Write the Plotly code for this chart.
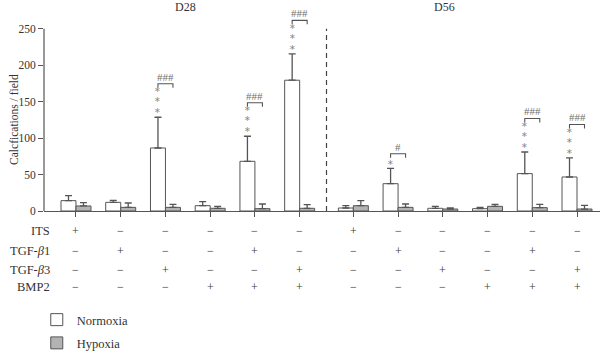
import plotly.graph_objects as go

# ---- data ----
positions = [0, 1, 2, 3, 4, 5, 6.2, 7.2, 8.2, 9.2, 10.2, 11.2]
normoxia = [14.2, 11.9, 86.5, 7.3, 68.2, 179.5, 4.1, 37.5, 3.7, 3.2, 51.3, 46.7]
normoxia_err = [6.8, 2.8, 42.2, 5.5, 34.4, 36.2, 3.2, 21.1, 2.7, 1.8, 29.7, 26.1]
hypoxia = [6.9, 5.0, 5.0, 3.7, 3.2, 3.7, 7.3, 5.0, 2.7, 6.4, 4.6, 2.7]
hypoxia_err = [4.5, 6.0, 4.2, 2.7, 6.4, 5.0, 6.9, 4.6, 1.4, 2.8, 4.6, 5.1]
stars = ["", "", "***", "", "***", "***", "", "*", "", "", "***", "***"]
hashes = ["", "", "###", "", "###", "###", "", "#", "", "", "###", "###"]
row_labels = ["ITS", "TGF-<i>β</i>1", "TGF-<i>β</i>3", "BMP2"]
row_signs = [
    ["+", "−", "−", "−", "−", "−", "+", "−", "−", "−", "−", "−"],
    ["−", "+", "−", "−", "+", "−", "−", "+", "−", "−", "+", "−"],
    ["−", "−", "+", "−", "−", "+", "−", "−", "+", "−", "−", "+"],
    ["−", "−", "−", "+", "+", "+", "−", "−", "−", "+", "+", "+"],
]
panel_titles = ["D28", "D56"]
panel_title_x = [2.45, 8.23]
separator_x = 5.6
y_ticks = [0, 50, 100, 150, 200, 250]

# ---- style/geometry ----
FONT = "Liberation Serif, Times New Roman, serif"
GRAY = "#555555"
TXT = "#333333"
W, H = 600, 354
ML, MR, MT, MB = 44, 0, 7, 143
YMAX = 280
plot_h = H - MT - MB
upx = YMAX / plot_h  # data units per pixel
BARW = 0.335

fig = go.Figure()
fig.add_trace(go.Bar(
    x=positions, y=normoxia, name="Normoxia", legendgroup="a",
    marker=dict(color="white", line=dict(color=GRAY, width=1)),
    error_y=dict(type="data", array=normoxia_err, arrayminus=[0] * 12, symmetric=False,
                 color=GRAY, thickness=1.3, width=3.5),
))
fig.add_trace(go.Bar(
    x=positions, y=hypoxia, name="Hypoxia", legendgroup="b",
    marker=dict(color="#b3b3b3", line=dict(color=GRAY, width=1)),
    error_y=dict(type="data", array=hypoxia_err, arrayminus=[0] * 12, symmetric=False,
                 color=GRAY, thickness=1.3, width=3.5),
))

shapes = []
annotations = []

# y-axis line (0..250 only)
shapes.append(dict(type="line", xref="paper", yref="paper", x0=0, x1=0,
                   y0=0, y1=250 / YMAX, line=dict(color=GRAY, width=1.2)))
# dashed separator
shapes.append(dict(type="line", xref="x", yref="y", x0=separator_x, x1=separator_x,
                   y0=0, y1=250, line=dict(color="#444444", width=1.2, dash="5px,4px")))

# significance marks
for i, p in enumerate(positions):
    s = stars[i]
    if not s:
        continue
    top = normoxia[i] + normoxia_err[i]
    xn = p - BARW / 2
    xh = p + BARW / 2
    n = len(s)
    star_txt = "<br>".join(["∗"] * n)
    center = top + (6 if n == 1 else 17) * upx
    annotations.append(dict(x=xn, y=center, xref="x", yref="y",
                            text=star_txt, showarrow=False, yanchor="middle",
                            font=dict(family="DejaVu Sans", size=8, color="#8a8a8a")))
    by = top + (9.5 * n + 5) * upx
    leg = 4 * upx
    shapes.append(dict(type="path", xref="x", yref="y",
                       path=f"M {xn},{by - leg} L {xn},{by} L {xh},{by} L {xh},{by - leg}",
                       line=dict(color=GRAY, width=1.1)))
    annotations.append(dict(x=(xn + xh) / 2, y=by + 7 * upx, xref="x", yref="y",
                            text=hashes[i], showarrow=False, yanchor="middle",
                            font=dict(family=FONT, size=11, color="#707070")))

# panel titles
for t, tx in zip(panel_titles, panel_title_x):
    annotations.append(dict(x=tx, y=1, xref="x", yref="paper", text=t, showarrow=False,
                            yanchor="middle", font=dict(family=FONT, size=12, color=TXT)))

# y title
annotations.append(dict(x=-30 / (W - ML - MR), y=125, xref="paper", yref="y",
                        text="Calcfications / field", textangle=-90, showarrow=False,
                        xanchor="center", yanchor="middle",
                        font=dict(family=FONT, size=11.5, color=TXT)))

# treatment table
row_py = [231, 250.5, 269.5, 286.5]
for r, (lab, signs) in enumerate(zip(row_labels, row_signs)):
    yp = -(row_py[r] - (H - MB)) / plot_h
    annotations.append(dict(x=(52 - ML) / (W - ML - MR), y=yp, xref="paper", yref="paper",
                            text=lab, showarrow=False, xanchor="right", yanchor="middle",
                            font=dict(family=FONT, size=12.5, color=TXT)))
    for p, sg in zip(positions, signs):
        annotations.append(dict(x=p, y=yp, xref="x", yref="paper", text=sg, showarrow=False,
                                xanchor="center", yanchor="middle",
                                font=dict(family=FONT, size=12, color="#3a3a3a")))

fig.update_layout(
    width=W, height=H,
    margin=dict(l=ML, r=MR, t=MT, b=MB, autoexpand=False),
    paper_bgcolor="white", plot_bgcolor="white",
    barmode="group", bargap=1 - 2 * BARW, bargroupgap=0,
    font=dict(family=FONT, size=11, color=TXT),
    showlegend=True,
    legend=dict(x=-0.013, y=-(305 - (H - MB)) / plot_h, xanchor="left", yanchor="top",
                orientation="v", font=dict(family=FONT, size=12.5, color=TXT),
                bgcolor="rgba(0,0,0,0)", tracegroupgap=4, traceorder="grouped"),
    shapes=shapes,
    annotations=annotations,
)
fig.update_xaxes(range=[-0.715, 11.714], showgrid=False, zeroline=False,
                 showline=True, linecolor=GRAY, linewidth=1.2,
                 tickmode="array", tickvals=positions, ticks="outside", ticklen=5,
                 tickcolor=GRAY, tickwidth=1.2, showticklabels=False)
fig.update_yaxes(range=[0, YMAX], showgrid=False, zeroline=False, showline=False,
                 tickmode="array", tickvals=y_ticks, ticks="outside", ticklen=5,
                 tickcolor=GRAY, tickwidth=1.2,
                 tickfont=dict(family=FONT, size=11.5, color=TXT))

fig.write_html("out.html")
